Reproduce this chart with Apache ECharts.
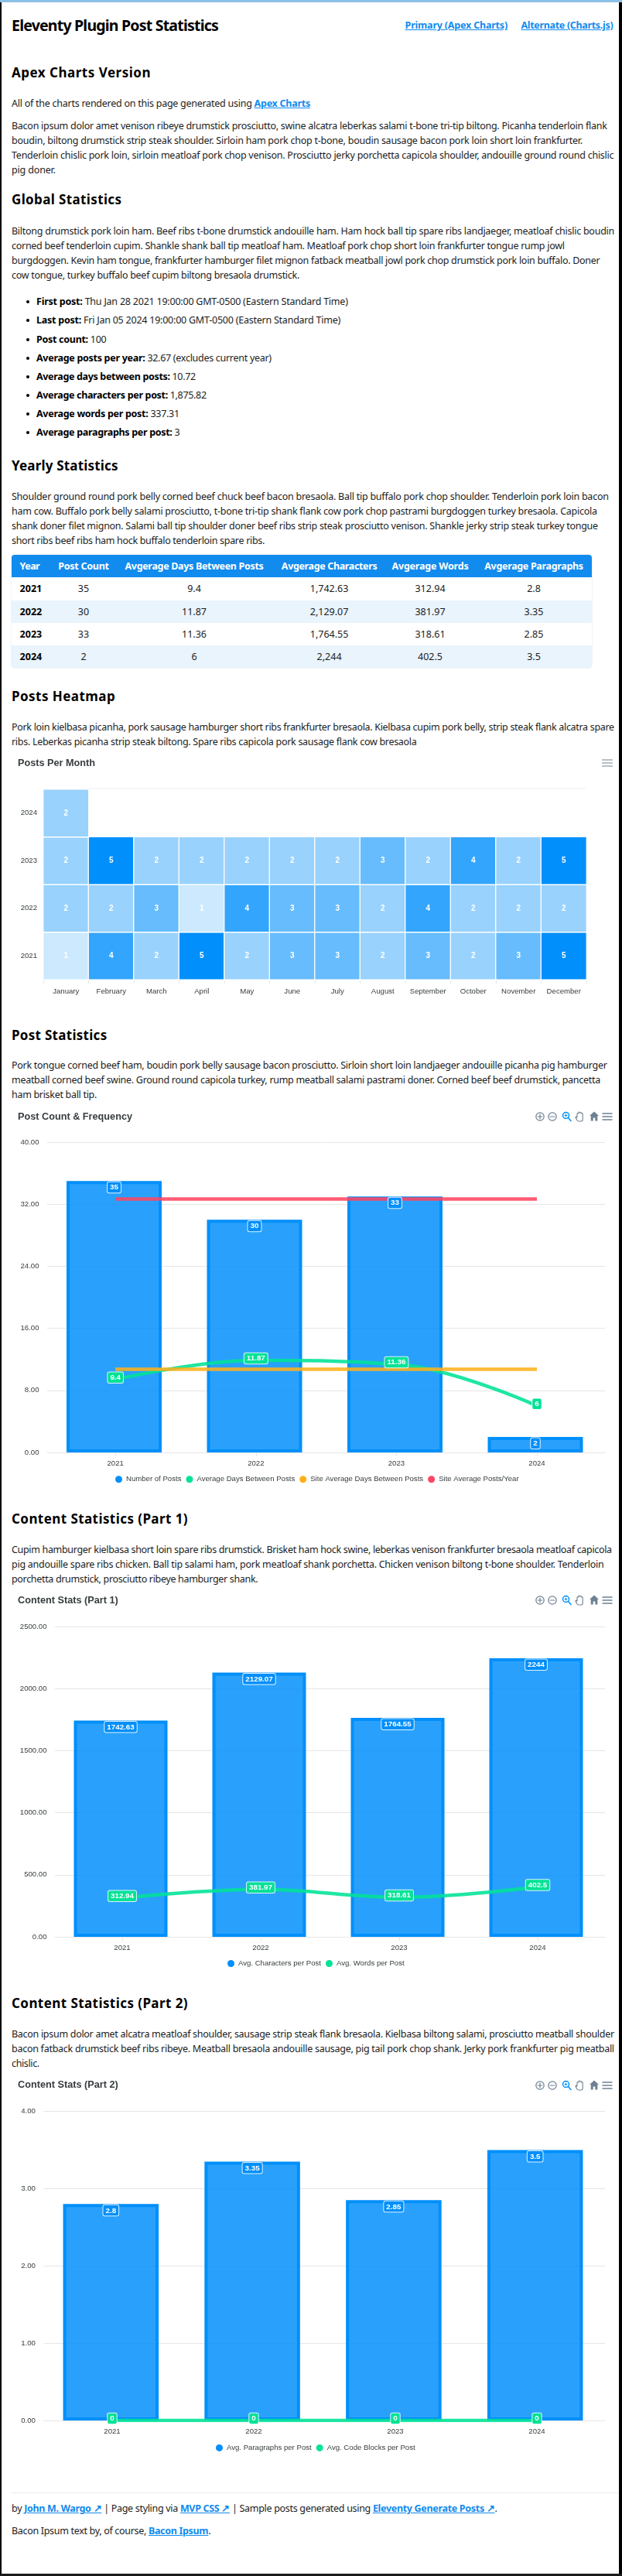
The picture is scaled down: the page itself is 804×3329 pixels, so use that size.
<!DOCTYPE html>
<html><head><meta charset="utf-8">
<script src="https://cdn.jsdelivr.net/npm/echarts@6/dist/echarts.min.js"></script>
<style>
html,body{margin:0;padding:0;background:#fff}
#page{position:relative;width:804px;height:3329px;overflow:hidden;background:#fff;font-family:"Noto Sans",sans-serif;color:#1c1c1c}
.t{position:absolute;white-space:nowrap;font-size:12.5px;line-height:16px;height:16px}
.h1{position:absolute;white-space:nowrap;font-size:19.5px;font-weight:700;line-height:24px;color:#000}
.h2{position:absolute;white-space:nowrap;font-size:17px;font-weight:700;line-height:22px;color:#000}
a{color:#118bee;font-weight:700;text-decoration:underline}
b{font-weight:700;color:#000}
.dot{position:absolute;left:33.6px;width:4px;height:4px;border-radius:50%;background:#000}
.chart{position:absolute;left:0;width:804px}
.edge{position:absolute;background:#000}
#tbl{position:absolute;left:15px;top:717px;width:749.5px;border-radius:4px;overflow:hidden;box-shadow:0 0 2px rgba(0,0,0,.15);font-size:12.5px}
#tbl .r{position:relative;height:29.3px;background:#fff}
#tbl .r.alt{background:#e9f4fd}
#tbl .r.head{background:#118bee;color:#fff;font-weight:700}
#tbl .c{position:absolute;top:0;line-height:29.3px;white-space:nowrap;transform:translateX(-50%)}
#tbl .c.y{transform:none;left:10.6px;font-weight:700;color:#000}
#tbl .head .c.y{color:#fff}
svg.tb{position:absolute;overflow:visible}
</style></head><body><div id="page"></div>
<script>
// ---------- chart data ----------
const months=['January','February','March','April','May','June','July','August','September','October','November','December'];
const years=['2021','2022','2023','2024'];
const posts2021=[1,4,2,5,2,3,3,2,3,2,3,5];
const posts2022=[2,2,3,1,4,3,3,2,4,2,2,2];
const posts2023=[2,5,2,2,2,2,2,3,2,4,2,5];
const posts2024=[2];
const postCount=[35,30,33,2];
const avgDays=[9.4,11.87,11.36,6];
const siteAvgDays=[10.72,10.72,10.72,10.72];
const siteAvgPosts=[32.67,32.67,32.67,32.67];
const avgChars=[1742.63,2129.07,1764.55,2244];
const avgWords=[312.94,381.97,318.61,402.5];
const avgParas=[2.8,3.35,2.85,3.5];
const avgCode=[0,0,0,0];
// ---------- table data ----------
const tableHead=['Year','Post Count','Avgerage Days Between Posts','Avgerage Characters','Avgerage Words','Avgerage Paragraphs'];
const tableRows=[
 ['2021','35','9.4','1,742.63','312.94','2.8'],
 ['2022','30','11.87','2,129.07','381.97','3.35'],
 ['2023','33','11.36','1,764.55','318.61','2.85'],
 ['2024','2','6','2,244','402.5','3.5']];
// ---------- page text: [html, centre y, right edge] ----------
const a=(s)=>'<a href="#">'+s+'</a>';
const paragraphs=[
 ['All of the charts rendered on this page generated using '+a('Apex Charts'),133.5,401],
 ['Bacon ipsum dolor amet venison ribeye drumstick prosciutto, swine alcatra leberkas salami t-bone tri-tip biltong. Picanha tenderloin flank',162.5,784.6],
 ['boudin, biltong drumstick strip steak shoulder. Sirloin ham pork chop t-bone, boudin sausage bacon pork loin short loin frankfurter.',181.5,752.8],
 ['Tenderloin chislic pork loin, sirloin meatloaf pork chop venison. Prosciutto jerky porchetta capicola shoulder, andouille ground round chislic',200.5,793.3],
 ['pig doner.',219.5,71.8],
 ['Biltong drumstick pork loin ham. Beef ribs t-bone drumstick andouille ham. Ham hock ball tip spare ribs landjaeger, meatloaf chislic boudin',298.5,794],
 ['corned beef tenderloin cupim. Shankle shank ball tip meatloaf ham. Meatloaf pork chop short loin frankfurter tongue rump jowl',317.5,729.7],
 ['burgdoggen. Kevin ham tongue, frankfurter hamburger filet mignon fatback meatball jowl pork chop drumstick pork loin buffalo. Doner',336.5,775.4],
 ['cow tongue, turkey buffalo beef cupim biltong bresaola drumstick.',355.5,387],
 ['Shoulder ground round pork belly corned beef chuck beef bacon bresaola. Ball tip buffalo pork chop shoulder. Tenderloin pork loin bacon',641.5,786.7],
 ['ham cow. Buffalo pork belly salami prosciutto, t-bone tri-tip shank flank cow pork chop pastrami burgdoggen turkey bresaola. Capicola',660.5,771.8],
 ['shank doner filet mignon. Salami ball tip shoulder doner beef ribs strip steak prosciutto venison. Shankle jerky strip steak turkey tongue',679.5,772.8],
 ['short ribs beef ribs ham hock buffalo tenderloin spare ribs.',698.5,342],
 ['Pork loin kielbasa picanha, pork sausage hamburger short ribs frankfurter bresaola. Kielbasa cupim pork belly, strip steak flank alcatra spare',939.5,793.8],
 ['ribs. Leberkas picanha strip steak biltong. Spare ribs capicola pork sausage flank cow bresaola',958.5,538.5],
 ['Pork tongue corned beef ham, boudin pork belly sausage bacon prosciutto. Sirloin short loin landjaeger andouille picanha pig hamburger',1377,784.6],
 ['meatball corned beef swine. Ground round capicola turkey, rump meatball salami pastrami doner. Corned beef beef drumstick, pancetta',1396,775.9],
 ['ham brisket ball tip.',1415,125],
 ['Cupim hamburger kielbasa short loin spare ribs drumstick. Brisket ham hock swine, leberkas venison frankfurter bresaola meatloaf capicola',2002.5,790.8],
 ['pig andouille spare ribs chicken. Ball tip salami ham, pork meatloaf shank porchetta. Chicken venison biltong t-bone shoulder. Tenderloin',2021.5,780.5],
 ['porchetta drumstick, prosciutto ribeye hamburger shank.',2040.5,333.3],
 ['Bacon ipsum dolor amet alcatra meatloaf shoulder, sausage strip steak flank bresaola. Kielbasa biltong salami, prosciutto meatball shoulder',2628.5,793.8],
 ['bacon fatback drumstick beef ribs ribeye. Meatball bresaola andouille sausage, pig tail pork chop shank. Jerky pork frankfurter pig meatball',2647.5,793.8],
 ['chislic.',2666.5,50.8],
 ['by '+a('John M. Wargo ↗')+' | Page styling via '+a('MVP CSS ↗')+' | Sample posts generated using '+a('Eleventy Generate Posts ↗')+'.',3242,642.6],
 ['Bacon Ipsum text by, of course, '+a('Bacon Ipsum')+'.',3271,272.3]];
const headings=[
 ['Apex Charts Version',94,195],['Global Statistics',258,157.4],['Yearly Statistics',601.5,152.8],['Posts Heatmap',900,149.2],
 ['Post Statistics',1338,138.5],['Content Statistics (Part 1)',1963,243],['Content Statistics (Part 2)',2589,243]];
const bullets=[
 ['<b>First post:</b> Thu Jan 28 2021 19:00:00 GMT-0500 (Eastern Standard Time)',390,449.7],
 ['<b>Last post:</b> Fri Jan 05 2024 19:00:00 GMT-0500 (Eastern Standard Time)',414,440],
 ['<b>Post count:</b> 100',438.5,137.4],
 ['<b>Average posts per year:</b> 32.67 (excludes current year)',462.5,350.8],
 ['<b>Average days between posts:</b> 10.72',486.5,252.8],
 ['<b>Average characters per post:</b> 1,875.82',511,266.7],
 ['<b>Average words per post:</b> 337.31',535,231.8],
 ['<b>Average paragraphs per post:</b> 3',559,232.3]];

const page=document.getElementById('page');
function add(cls,html,cy,lh,left,right){
  const d=document.createElement('div');d.className=cls;d.innerHTML=html;
  d.style.left=left+'px';d.style.top=(cy-lh/2)+'px';page.appendChild(d);
  fit(d,right-left);return d;
}
function fit(d,target){
  const w=d.getBoundingClientRect().width,n=d.textContent.length;
  d.style.letterSpacing=((target-w)/n)+'px';
}
add('h1','Eleventy Plugin Post Statistics',33,24,15,282);
const l1=add('t',a('Primary (Apex Charts)'),33,16,523.6,656);
const l2=add('t',a('Alternate (Charts.js)'),33,16,673.5,792.3);
headings.forEach(h=>add('h2',h[0],h[1],22,15,h[2]));
paragraphs.forEach(p=>add('t',p[0],p[1],16,15,p[2]));
bullets.forEach(p=>{add('t',p[0],p[1],16,47,p[2]);
  const dot=document.createElement('div');dot.className='dot';dot.style.top=(p[1]-2)+'px';page.appendChild(dot);});

// table
const colCentres=[0,93,236,410.6,541,675];
const headWidths=[25.5,65.6,179,123.5,99,127.4];
const tbl=document.createElement('div');tbl.id='tbl';page.appendChild(tbl);
function row(cells,cls){
  const r=document.createElement('div');r.className='r '+cls;
  cells.forEach((c,i)=>{const s=document.createElement('div');s.className='c'+(i==0?' y':'');s.textContent=c;
    if(i>0)s.style.left=colCentres[i]+'px';r.appendChild(s);});
  tbl.appendChild(r);return r;
}
const hr=row(tableHead,'head');
[...hr.children].forEach((c,i)=>fit(c,headWidths[i]));
tableRows.forEach((r,i)=>row(r,i%2?'alt':''));

// footer rule + screenshot frame
function box(l,t,w,h,c){const d=document.createElement('div');d.className='edge';
  d.style.cssText+=`left:${l}px;top:${t}px;width:${w}px;height:${h}px;background:${c}`;page.appendChild(d);}
box(15,3221,785,1,'#ececec');
box(0,0,2,3329,'#000');box(799.5,0,4.5,3329,'#000');box(0,3326,804,3,'#1a1a1a');box(0,0,804,3,'#8cc0e8');

// toolbar icons
function toolbar(cy,menuOnly){
  const s='#6e8192',sv=document.createElementNS('http://www.w3.org/2000/svg','svg');
  sv.setAttribute('class','tb');sv.setAttribute('width',110);sv.setAttribute('height',20);
  sv.style.left='690px';sv.style.top=(cy-10)+'px';
  let h=`<g fill="none" stroke="${s}" stroke-width="1.2" stroke-linecap="round">`;
  if(!menuOnly){
    h+=`<circle cx="8" cy="10" r="5.2"/><path d="M5 10h6M8 7v6"/><circle cx="24" cy="10" r="5.2"/><path d="M21 10h6"/></g>`;
    h+=`<g fill="none" stroke="#008ffb" stroke-width="1.5" stroke-linecap="round"><circle cx="41.5" cy="8.5" r="4"/><path d="M44.5 11.5l3.5 4"/><path d="M40 8.5h3M41.5 7v3" stroke-width="1"/></g>`;
    h+=`<path d="M56 10.5V6.5q0-1 .9-1t.9 1V5q0-1 .9-1t.9 1v.5q0-1 .9-1t.9 1v1q0-1 .9-1t.9 1v7q0 2.500-2 2.500h-3q-1.500 0-2.500-1.500l-1.500-3q-.5-1 .3-1.300t1.300.7z" fill="#fff" stroke="${s}" stroke-width="1.1"/>`;
    h+=`<path d="M78 3.5l6 5.500h-1.700v6.500h-3v-4h-2.600v4h-3V9H72z" fill="${s}"/>`;
    h+=`<g fill="none" stroke="${s}" stroke-width="1.300">`;
  }
  h+=`<path d="M88.500 6h13M88.500 10h13M88.500 14h13"/></g>`;
  sv.innerHTML=h;page.appendChild(sv);
}
toolbar(986,true);toolbar(1443);toolbar(2068);toolbar(2694.5);

// ---------- charts ----------
const FONT='"Liberation Sans",Arial,sans-serif',TXT='#373d3f',GRID='#e6e6e6';
const BLUE='#008ffb',GREEN='#00e396',ORANGE='#feb019',RED='#ff4560';
function mount(top,h){const d=document.createElement('div');d.className='chart';d.style.top=top+'px';d.style.height=h+'px';page.appendChild(d);return echarts.init(d,null,{renderer:'canvas'});}
function title(text,cy,top){return {text,left:23,top:cy-top-7.5,textStyle:{fontFamily:FONT,fontSize:12.7,fontWeight:'bold',color:'#373d3f',lineHeight:15},padding:0};}

// heatmap
(function(){
  const top=970,h=330,c=mount(top,h),cells=[];
  [posts2021,posts2022,posts2023,posts2024].forEach((arr,y)=>arr.forEach((v,m)=>cells.push([m,y,v])));
  c.setOption({animation:false,title:title('Posts Per Month',986,top),
    grid:{left:56,width:702,top:1020-top,height:246},
    xAxis:{type:'category',data:months,axisLine:{lineStyle:{color:GRID}},axisTick:{show:true,length:5,lineStyle:{color:GRID}},splitLine:{show:false},
      axisLabel:{interval:0,fontFamily:FONT,fontSize:9.6,color:TXT,margin:10}},
    yAxis:{type:'category',data:years,axisLine:{show:false},axisTick:{show:false},splitLine:{show:false},
      axisLabel:{fontFamily:FONT,fontSize:9.6,color:TXT,margin:8,padding:[0,0,3,0]}},
    visualMap:{show:false,type:'piecewise',dimension:2,seriesIndex:0,pieces:[
      {value:1,color:'#cce9fe'},{value:2,color:'#99d2fd'},{value:3,color:'#66bcfc'},{value:4,color:'#33a5fc'},{value:5,color:BLUE}]},
    graphic:[{type:'line',shape:{x1:114,y1:1019-top,x2:758,y2:1019-top},style:{stroke:'#eeeeee',lineWidth:1}}],
    series:[{type:'heatmap',data:cells,itemStyle:{borderColor:'#fff',borderWidth:1.3},emphasis:{disabled:true},
      label:{show:true,fontFamily:FONT,fontSize:10,fontWeight:'bold',color:'#fff'}}]});
})();

// combo charts: y-axis grid / line+label grid / bar grid
function combo(o){
  const top=o.top,gh=o.y0-o.y1,ytop=o.y1-top;
  const yHidden=(i)=>({type:'value',gridIndex:i,min:0,max:o.max,interval:o.step,show:false});
  const xHidden=(i)=>({type:'category',gridIndex:i,data:years,show:false});
  const lab=(color)=>({show:true,fontFamily:FONT,fontSize:9.8,fontWeight:'bold',color:'#fff',backgroundColor:color,borderColor:'rgba(255,255,255,.85)',borderWidth:1,borderRadius:2,padding:[2,3,1.5,3],lineHeight:10});
  const series=[
    {name:o.barName,type:'bar',xAxisIndex:2,yAxisIndex:2,data:o.bars,barWidth:o.barW,barGap:'-100%',z:2,
     itemStyle:{color:'rgba(0,143,251,.84)',borderColor:BLUE,borderWidth:4},emphasis:{disabled:true}}];
  o.lines.forEach(l=>series.push({name:l.name,type:'line',xAxisIndex:1,yAxisIndex:1,data:l.data,smooth:l.labels?0.4:false,
     symbol:'circle',symbolSize:l.labels?1:0,showSymbol:true,showAllSymbol:true,z:3,
     lineStyle:{color:l.color,width:4.5,opacity:.88},itemStyle:{color:l.color},emphasis:{disabled:true},
     label:l.labels?Object.assign(lab(l.color),{position:'inside',offset:[0,-2.5]}):{show:false}}));
  series.push({name:'_barLabels',type:'bar',xAxisIndex:2,yAxisIndex:2,data:o.bars,barWidth:o.barW,barGap:'-100%',z:6,silent:true,
     itemStyle:{color:'rgba(0,0,0,0)'},label:Object.assign(lab(BLUE),{position:'insideTop',distance:o.lblDist||1.500})});
  const c=mount(top,o.h);
  c.setOption({animation:false,title:title(o.title,o.titleY,top),
    grid:[{left:o.gx0,width:782-o.gx0,top:ytop,height:gh},
          {left:o.lx,width:o.lw,top:ytop,height:gh},
          {left:o.bx,width:o.bw,top:ytop,height:gh}],
    xAxis:[{type:'category',gridIndex:0,data:years,axisLabel:{show:false},axisTick:{show:false},axisLine:{show:true,lineStyle:{color:GRID,width:1}}},
      {type:'category',gridIndex:1,data:years,axisLine:{show:false},axisTick:{show:true,alignWithLabel:true,length:5,lineStyle:{color:GRID}},
       axisLabel:{fontFamily:FONT,fontSize:9.6,color:TXT,margin:9}},xHidden(2)],
    yAxis:[{type:'value',gridIndex:0,min:0,max:o.max,interval:o.step,axisLine:{show:false},axisTick:{show:false},
       splitLine:{show:true,lineStyle:{color:GRID,width:1}},
       axisLabel:{fontFamily:FONT,fontSize:9.6,color:TXT,margin:10.5,padding:[0,0,3,0],formatter:v=>v.toFixed(2)}},yHidden(1),yHidden(2)],
    legend:{left:o.legendX,top:o.legendY-top-6,itemWidth:9,itemHeight:9,itemGap:6,padding:0,icon:'circle',
      textStyle:{fontFamily:FONT,fontSize:9.6,color:TXT},
      data:[{name:o.barName,itemStyle:{color:BLUE,borderWidth:0}}].concat(o.lines.map(l=>({name:l.name,itemStyle:{color:l.color}})))},
    series});
}
combo({top:1430,h:500,title:'Post Count & Frequency',titleY:1443,y1:1476,y0:1877,max:40,step:8,
  gx0:61,lx:58.4,lw:726.4,bx:56.75,bw:726,barW:123,bars:postCount,barName:'Number of Posts',legendX:149,legendY:1912.7,
  lines:[{name:'Average Days Between Posts',data:avgDays,color:GREEN,labels:true},
         {name:'Site Average Days Between Posts',data:siteAvgDays,color:ORANGE},
         {name:'Site Average Posts/Year',data:siteAvgPosts,color:RED}]});
combo({top:2055,h:500,title:'Content Stats (Part 1)',titleY:2068,y1:2102,y0:2503,max:2500,step:500,
  gx0:71,lx:68.5,lw:716,bx:66.5,bw:716,barW:121,bars:avgChars,barName:'Avg. Characters per Post',legendX:294,legendY:2538.5,
  lines:[{name:'Avg. Words per Post',data:avgWords,color:GREEN,labels:true}]});
combo({top:2680,h:500,title:'Content Stats (Part 2)',titleY:2694.5,y1:2728.5,y0:3128,max:4,step:1,
  gx0:56.4,lx:53.5,lw:732,bx:51.9,bw:731.2,barW:123.5,bars:avgParas,barName:'Avg. Paragraphs per Post',legendX:279,legendY:3164.4,
  lines:[{name:'Avg. Code Blocks per Post',data:avgCode,color:GREEN,labels:true}]});
</script></body></html>
